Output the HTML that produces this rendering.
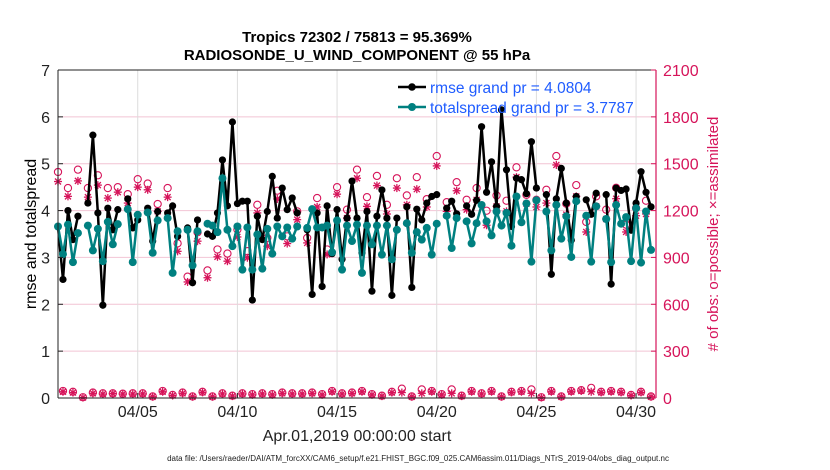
<!DOCTYPE html>
<html><head><meta charset="utf-8"><style>
body{margin:0;background:#fff;}
svg{display:block;font-family:"Liberation Sans",Arial,sans-serif;}
</style></head><body>
<svg id="chart" width="830" height="470">
<rect width="830" height="470" fill="#fff"/>
<g id="grid"></g>
<g id="series"></g>
<g id="axes"></g>
<text x="357" y="42" text-anchor="middle" font-size="15" font-weight="bold">Tropics 72302 / 75813 = 95.369%</text>
<text x="357" y="60" text-anchor="middle" font-size="15" font-weight="bold">RADIOSONDE_U_WIND_COMPONENT @ 55 hPa</text>
<text transform="translate(36,234) rotate(-90)" text-anchor="middle" font-size="16">rmse and totalspread</text>
<text transform="translate(718,234) rotate(-90)" text-anchor="middle" font-size="15" fill="#d6145a"># of obs: o=possible; ×=assimilated</text>
<text x="357" y="441" text-anchor="middle" font-size="16" fill="#222">Apr.01,2019 00:00:00 start</text>
<text x="418" y="461" text-anchor="middle" font-size="8" fill="#222">data file: /Users/raeder/DAI/ATM_forcXX/CAM6_setup/f.e21.FHIST_BGC.f09_025.CAM6assim.011/Diags_NTrS_2019-04/obs_diag_output.nc</text>
<g>
<line x1="398" y1="87" x2="426" y2="87" stroke="#000" stroke-width="2.5"/><circle cx="412" cy="87" r="3.8" fill="#000"/>
<text x="430" y="93" font-size="15.5" fill="#1f5cff">rmse grand pr = 4.0804</text>
<line x1="398" y1="107" x2="426" y2="107" stroke="#008080" stroke-width="2.5"/><circle cx="412" cy="107" r="4" fill="#008080"/>
<text x="430" y="113" font-size="15.5" fill="#1f5cff">totalspread grand pr = 3.7787</text>
</g>
</svg>
<script>
const rmse=[3.66,2.53,4.0,3.38,3.88,null,4.16,5.61,3.95,1.98,4.05,3.59,4.02,null,4.25,3.63,3.8,null,4.05,3.35,3.98,null,3.95,4.1,3.45,null,3.63,2.46,3.8,null,
3.5,3.45,3.95,5.08,4.1,5.89,4.15,4.2,4.2,2.09,3.88,3.38,3.98,4.73,3.84,4.48,4.02,4.27,3.95,null,3.59,2.21,3.95,2.38,4.1,3.08,4.02,2.96,3.84,4.63,
3.84,3.1,3.98,2.28,3.88,4.44,3.84,2.19,3.84,null,4.08,2.36,4.03,3.8,4.16,4.3,4.34,null,4.05,4.2,3.93,null,4.1,3.92,4.22,5.79,4.39,5.04,4.09,6.15,
4.87,3.66,4.69,4.66,4.36,5.47,4.48,null,4.34,2.64,4.25,4.9,4.16,3.37,4.3,null,4.23,3.92,4.37,null,4.34,2.43,4.48,4.43,4.46,3.58,4.16,4.83,4.39,4.08];
const spread=[3.66,3.07,3.7,2.9,3.52,null,3.68,3.15,3.61,2.92,3.76,3.28,3.71,null,4.03,2.9,3.91,null,3.96,3.1,3.79,null,3.84,2.67,3.56,null,3.59,2.83,3.56,null,
3.72,3.68,3.54,4.69,3.59,3.24,3.66,2.74,3.64,2.74,3.49,2.76,3.61,3.08,3.66,3.45,3.64,3.4,3.66,null,3.63,4.03,3.64,3.64,3.68,3.11,3.79,2.74,3.68,3.35,
3.7,2.67,3.68,3.28,3.68,3.06,3.68,2.96,3.59,null,3.73,3.1,3.54,3.38,3.63,3.06,3.72,null,3.89,3.2,3.84,null,3.77,3.3,3.73,4.12,3.77,3.47,3.98,3.68,
3.95,3.25,4.3,3.75,4.15,2.91,4.22,null,3.98,3.15,4.12,3.4,3.88,3.01,4.2,null,3.89,2.91,4.09,null,3.82,2.9,4.12,3.72,3.86,2.92,4.05,2.89,3.98,3.16];
const possibleMain=[1447,1344,1462,1344,1426,1344,1350,1305,1401,1373,1242,1344,990,777,1061,817,951,925,1078,940,1237,1025,1327,1035,1195,1025,1280,951,1350,1206,
1462,1286,1422,1237,1407,1297,1414,1273,1549,1254,1382,1269,1344,1199,1297,1263,1477,1301,1269,1333,1549,1244,1363,1127,1291,1206,1346,1110,1216,1263];
const assimMain=[1386,1291,1390,1286,1363,1280,1318,1248,1350,1333,1195,1286,939,743,1004,770,904,876,1031,898,1185,972,1274,989,1142,993,1223,919,1305,1152,
1407,1227,1360,1178,1344,1237,1337,1223,1486,1195,1327,1206,1269,1106,1227,1195,1414,1244,1223,1248,1492,1174,1291,1063,1227,1146,1276,1063,1167,1178];
const possibleMinor=[45,40,5,35,30,30,28,30,30,10,45,20,35,10,40,10,30,15,30,25,30,25,35,30,30,35,25,45,30,35,45,25,15,40,60,10,55,45,25,55,15,45,30,45,10,40,45,55,5,45,10,45,50,65,40,45,40,20,40,10];
const assimMinor=[40,35,3,30,25,28,25,25,26,8,40,16,30,8,36,8,26,12,26,20,26,20,30,26,26,30,20,40,26,30,40,20,12,35,35,8,30,40,20,30,12,40,26,40,8,36,40,30,3,40,8,40,45,40,36,40,36,16,36,8];
const xTicks=["04/05","04/10","04/15","04/20","04/25","04/30"];
const xTickDays=[4,9,14,19,24,29];
const yTicks=[0,1,2,3,4,5,6,7];
const rTicks=[0,300,600,900,1200,1500,1800,2100];

const X0=58,X1=656,Y0=398,Y1=70;
const xs=t=>X0+t*(X1-X0)/30;
const ys=v=>Y0-v*(Y0-Y1)/7;
const yr=v=>Y0-v*(Y0-Y1)/2100;
const NS="http://www.w3.org/2000/svg";
function mk(tag,attrs,parent){const e=document.createElementNS(NS,tag);for(const k in attrs)e.setAttribute(k,attrs[k]);parent.appendChild(e);return e;}
const grid=document.getElementById('grid'),ser=document.getElementById('series'),ax=document.getElementById('axes');
yTicks.forEach(v=>{const l=mk('line',{x1:X0,x2:X1,y1:ys(v),y2:ys(v),stroke:'#f2c4d4','stroke-width':1},grid);

});
xTickDays.forEach(d=>{const l=mk('line',{x1:xs(d),x2:xs(d),y1:Y1,y2:Y0,stroke:'#dcdcdc','stroke-width':1},grid);

});
function drawLine(arr,color,name,r){
  let seg=[];const segs=[];
  arr.forEach((v,k)=>{if(v===null){if(seg.length)segs.push(seg);seg=[];}else seg.push([xs(k*0.25),ys(v)]);});
  if(seg.length)segs.push(seg);
  segs.forEach(s=>{const p=mk('polyline',{points:s.map(q=>q.join(',')).join(' '),fill:'none',stroke:color,'stroke-width':2.5,'stroke-linejoin':'round'},ser);
  
  });
  arr.forEach((v,k)=>{if(v===null)return;const c=mk('circle',{cx:xs(k*0.25),cy:ys(v),r:r,fill:color},ser);
  
  });
}
function star(cx,cy,parent){const g=mk('g',{stroke:'#d6145a','stroke-width':1.3},parent);
  
  
  mk('line',{x1:cx-4,x2:cx+4,y1:cy,y2:cy},g);mk('line',{x1:cx,x2:cx,y1:cy-4,y2:cy+4},g);
  mk('line',{x1:cx-3,x2:cx+3,y1:cy-3,y2:cy+3},g);mk('line',{x1:cx-3,x2:cx+3,y1:cy+3,y2:cy-3},g);}
function circ(cx,cy,parent){const c=mk('circle',{cx:cx,cy:cy,r:3.6,fill:'none',stroke:'#d6145a','stroke-width':1.1},parent);
  
  }
possibleMain.forEach((v,i)=>{circ(xs(i*0.5),yr(v),ser);});
assimMain.forEach((v,i)=>{star(xs(i*0.5),yr(v),ser);});
possibleMinor.forEach((v,i)=>{circ(xs(i*0.5+0.25),yr(v),ser);});
assimMinor.forEach((v,i)=>{star(xs(i*0.5+0.25),yr(v),ser);});
drawLine(rmse,'#000','rmse',3.6);
drawLine(spread,'#008080','totalspread',4);
let a=mk('line',{x1:X0,x2:X0,y1:Y1,y2:Y0,stroke:'#222','stroke-width':1},ax);
a=mk('line',{x1:X0,x2:X1,y1:Y0,y2:Y0,stroke:'#222','stroke-width':1},ax);
a=mk('line',{x1:X0,x2:X1,y1:Y1,y2:Y1,stroke:'#222','stroke-width':1},ax);
a=mk('line',{x1:X1,x2:X1,y1:Y1,y2:Y0,stroke:'#d6145a','stroke-width':1.2},ax);
yTicks.forEach(v=>{mk('line',{x1:X0,x2:X0+5,y1:ys(v),y2:ys(v),stroke:'#222'},ax);
  const t=mk('text',{x:X0-8,y:ys(v)+6,'text-anchor':'end','font-size':16,fill:'#222'},ax);t.textContent=v;
  
  });
rTicks.forEach(v=>{mk('line',{x1:X1-5,x2:X1,y1:yr(v),y2:yr(v),stroke:'#d6145a'},ax);
  const t=mk('text',{x:X1+7,y:yr(v)+6,'font-size':16,fill:'#d6145a'},ax);t.textContent=v;
  
  });
xTicks.forEach((s,i)=>{const x=xs(xTickDays[i]);mk('line',{x1:x,x2:x,y1:Y0,y2:Y0-5,stroke:'#222'},ax);
  const t=mk('text',{x:x,y:417,'text-anchor':'middle','font-size':16,fill:'#222'},ax);t.textContent=s;
  
  });
</script>
</body></html>
